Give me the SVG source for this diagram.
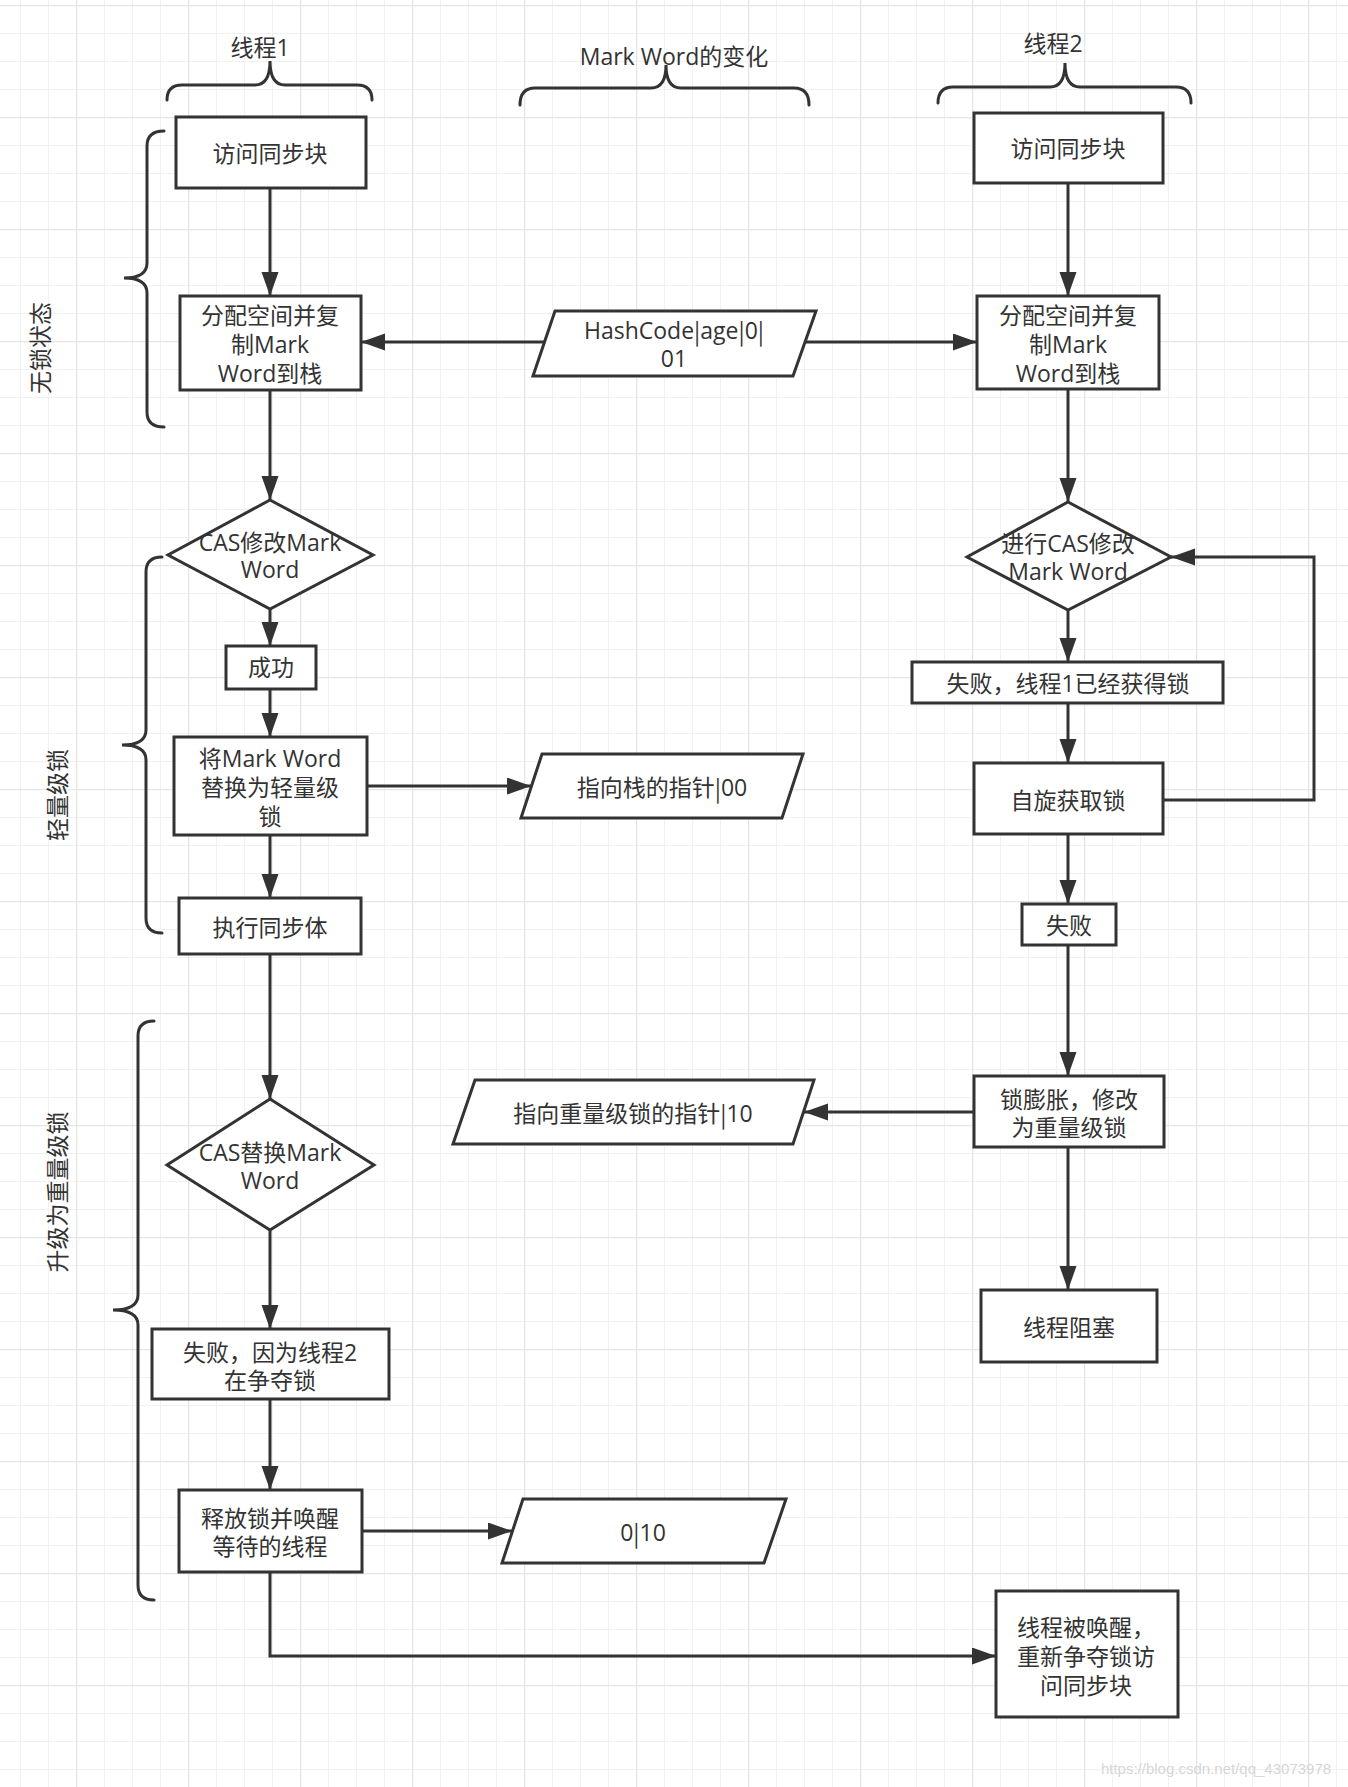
<svg xmlns="http://www.w3.org/2000/svg" width="1348" height="1787" viewBox="0 0 1348 1787">
<style>
.n{fill:#fff;stroke:#333;stroke-width:3}
.c{fill:none;stroke:#333;stroke-width:3}
.b{fill:none;stroke:#333;stroke-width:3;stroke-linecap:round}
text{font-family:"Open Sans","Noto Sans CJK SC",sans-serif;font-size:23px;fill:#333;text-anchor:middle;dominant-baseline:central}
.p{font-family:"Noto Sans CJK SC",sans-serif}
.wm{font-family:"Liberation Sans",sans-serif;font-size:15px;fill:#d6d6d6}
</style>
<defs>
<pattern id="grid" patternUnits="userSpaceOnUse" x="76" y="5" width="112" height="112">
<rect width="112" height="112" fill="#fff"/>
<path d="M28.5 0V112M56.5 0V112M84.5 0V112M0 28.5H112M0 56.5H112M0 84.5H112" stroke="#f1f1f1" stroke-width="1"/>
<path d="M0.5 0V112M0 0.5H112" stroke="#e6e6e6" stroke-width="1.5"/>
</pattern>
<marker id="ar" markerUnits="userSpaceOnUse" markerWidth="26" markerHeight="18" refX="24" refY="8.5" orient="auto">
<path d="M0,0 L24,8.5 L0,17 z" fill="#333"/>
</marker>
</defs>
<rect width="1348" height="1787" fill="url(#grid)"/>

<g id="braces">
<path class="b" d="M167,100 Q167,85 182,85 L255,85 Q270,85 270,61 Q270,85 285,85 L357,85 Q372,85 372,100"/>
<path class="b" d="M520,105 Q520,88 535,88 L651,88 Q666,88 666,65 Q666,88 681,88 L794,88 Q809,88 809,105"/>
<path class="b" d="M938,103 Q938,87 953,87 L1050,87 Q1065,87 1065,63 Q1065,87 1080,87 L1176,87 Q1191,87 1191,103"/>
<path class="b" d="M164,131 Q147,131 147,146 L147,263 Q147,278 124,278 Q147,278 147,293 L147,412 Q147,427 164,427"/>
<path class="b" d="M162,557 Q146,557 146,572 L146,730 Q146,745 122,745 Q146,745 146,760 L146,918 Q146,933 162,933"/>
<path class="b" d="M154,1021 Q138,1021 138,1036 L138,1295 Q138,1310 113,1310 Q138,1310 138,1325 L138,1585 Q138,1600 154,1600"/>
</g>
<g id="labels">
<text x="260" y="47">线程1</text>
<text x="674" y="56">Mark Word的变化</text>
<text x="1053" y="43">线程2</text>
<text transform="translate(40,348) rotate(-90)">无锁状态</text>
<text transform="translate(57,795) rotate(-90)">轻量级锁</text>
<text transform="translate(57,1192) rotate(-90)">升级为重量级锁</text>
</g>

<g id="connectors">
<path class="c" marker-end="url(#ar)" d="M270,188 V296"/>
<path class="c" marker-end="url(#ar)" d="M544,342 H361"/>
<path class="c" marker-end="url(#ar)" d="M805,342 H977"/>
<path class="c" marker-end="url(#ar)" d="M270,390 V500"/>
<path class="c" marker-end="url(#ar)" d="M270,609 V646"/>
<path class="c" marker-end="url(#ar)" d="M270,689 V737"/>
<path class="c" marker-end="url(#ar)" d="M367,786 H531"/>
<path class="c" marker-end="url(#ar)" d="M270,835 V898"/>
<path class="c" marker-end="url(#ar)" d="M270,954 V1099"/>
<path class="c" marker-end="url(#ar)" d="M270,1230 V1329"/>
<path class="c" marker-end="url(#ar)" d="M270,1399 V1490"/>
<path class="c" marker-end="url(#ar)" d="M362,1531 H512"/>
<path class="c" marker-end="url(#ar)" d="M270,1572 V1656 H996"/>
<path class="c" marker-end="url(#ar)" d="M1068,183 V296"/>
<path class="c" marker-end="url(#ar)" d="M1068,389 V502"/>
<path class="c" marker-end="url(#ar)" d="M1068,610 V662"/>
<path class="c" marker-end="url(#ar)" d="M1068,703 V763"/>
<path class="c" marker-end="url(#ar)" d="M1163,800 H1314 V557 H1171"/>
<path class="c" marker-end="url(#ar)" d="M1068,834 V904"/>
<path class="c" marker-end="url(#ar)" d="M1068,945 V1076"/>
<path class="c" marker-end="url(#ar)" d="M974,1112 H804"/>
<path class="c" marker-end="url(#ar)" d="M1068,1147 V1290"/>
</g>

<g id="t1-access"><rect class="n" x="176" y="117" width="190" height="71"/><text x="270" y="153">访问同步块</text></g>
<g id="t1-copy"><rect class="n" x="180" y="296" width="181" height="94"/><text x="270" y="315">分配空间并复</text><text x="270" y="344">制Mark</text><text x="270" y="373">Word到栈</text></g>
<g id="mw-hash"><polygon class="n" points="555,311 816,311 793,376 533,376"/><text x="674" y="330">HashCode<tspan class="p">|</tspan>age<tspan class="p">|</tspan>0<tspan class="p">|</tspan></text><text x="674" y="358">01</text></g>
<g id="t2-access"><rect class="n" x="974" y="113" width="189" height="70"/><text x="1068" y="148">访问同步块</text></g>
<g id="t2-copy"><rect class="n" x="977" y="296" width="182" height="93"/><text x="1068" y="315">分配空间并复</text><text x="1068" y="344">制Mark</text><text x="1068" y="373">Word到栈</text></g>
<g id="t1-cas"><polygon class="n" points="270,500 373,555 270,609 168,555"/><text x="270" y="542">CAS修改Mark</text><text x="270" y="569">Word</text></g>
<g id="t1-success"><rect class="n" x="226" y="646" width="90" height="43"/><text x="271" y="667">成功</text></g>
<g id="t1-replace"><rect class="n" x="174" y="737" width="193" height="98"/><text x="270" y="758">将Mark Word</text><text x="270" y="787">替换为轻量级</text><text x="270" y="816">锁</text></g>
<g id="mw-stack"><polygon class="n" points="542,754 803,754 782,818 521,818"/><text x="662" y="787">指向栈的指针<tspan class="p">|</tspan>00</text></g>
<g id="t1-exec"><rect class="n" x="179" y="898" width="182" height="56"/><text x="270" y="927">执行同步体</text></g>
<g id="t2-cas"><polygon class="n" points="1068,502 1171,557 1068,610 967,557"/><text x="1068" y="543">进行CAS修改</text><text x="1068" y="571">Mark Word</text></g>
<g id="t2-fail1"><rect class="n" x="912" y="662" width="311" height="41"/><text x="1068" y="683">失败，线程1已经获得锁</text></g>
<g id="t2-spin"><rect class="n" x="974" y="763" width="189" height="71"/><text x="1068" y="800">自旋获取锁</text></g>
<g id="t2-fail2"><rect class="n" x="1022" y="904" width="94" height="41"/><text x="1069" y="925">失败</text></g>
<g id="t2-inflate"><rect class="n" x="974" y="1076" width="190" height="71"/><text x="1069" y="1099">锁膨胀，修改</text><text x="1069" y="1127">为重量级锁</text></g>
<g id="mw-heavy"><polygon class="n" points="475,1080 814,1080 793,1144 453,1144"/><text x="633" y="1113">指向重量级锁的指针<tspan class="p">|</tspan>10</text></g>
<g id="t2-block"><rect class="n" x="981" y="1290" width="176" height="72"/><text x="1069" y="1327">线程阻塞</text></g>
<g id="t1-cas2"><polygon class="n" points="270,1099 374,1165 270,1230 167,1165"/><text x="270" y="1152">CAS替换Mark</text><text x="270" y="1180">Word</text></g>
<g id="t1-fail"><rect class="n" x="152" y="1329" width="237" height="70"/><text x="270" y="1352">失败，因为线程2</text><text x="270" y="1380">在争夺锁</text></g>
<g id="t1-release"><rect class="n" x="179" y="1490" width="183" height="82"/><text x="270" y="1518">释放锁并唤醒</text><text x="270" y="1546">等待的线程</text></g>
<g id="mw-unlock"><polygon class="n" points="523,1499 786,1499 764,1563 502,1563"/><text x="643" y="1532">0<tspan class="p">|</tspan>10</text></g>
<g id="t2-wake"><rect class="n" x="996" y="1591" width="182" height="126"/><text x="1086" y="1627">线程被唤醒，</text><text x="1086" y="1656">重新争夺锁访</text><text x="1086" y="1685">问同步块</text></g>
<text class="wm" x="1216" y="1768">https://blog.csdn.net/qq_43073978</text>
</svg>
